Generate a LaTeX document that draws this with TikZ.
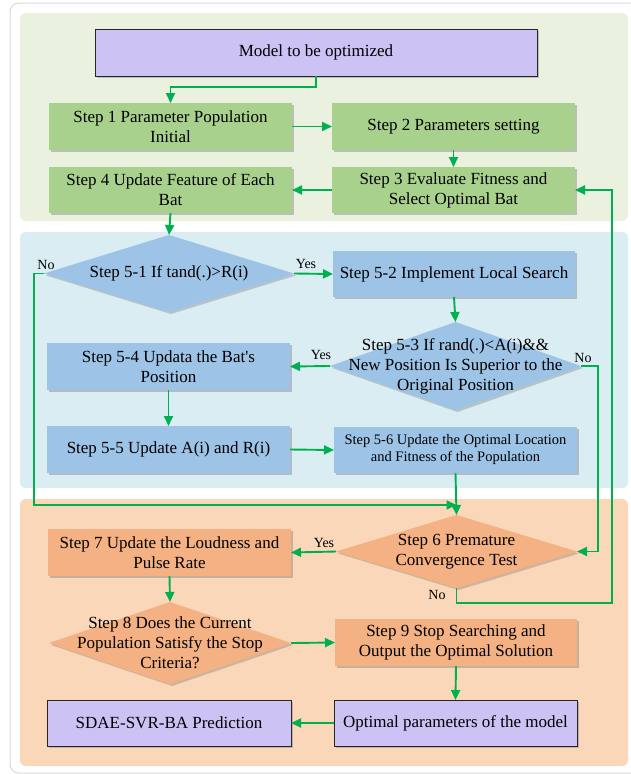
\documentclass[tikz,border=0pt]{standalone}
\usepackage{fontspec}
\setmainfont{Liberation Serif}[Ligatures=TeXOff]
\usetikzlibrary{shapes.geometric,arrows.meta,shadows,calc}
\definecolor{gpanel}{HTML}{EAF1DE}
\definecolor{gbox}{HTML}{A9D18E}
\definecolor{bpanel}{HTML}{DAEDF3}
\definecolor{bbox}{HTML}{9DC3E6}
\definecolor{opanel}{HTML}{FAD7B8}
\definecolor{obox}{HTML}{F4B183}
\definecolor{pbox}{HTML}{CCC2F4}
\definecolor{arrgreen}{HTML}{00B050}
\definecolor{frame}{HTML}{D9D9D9}
\begin{document}
\begin{tikzpicture}[x=1pt,y=-1pt,
  font=\fontsize{17}{20}\selectfont,
  every node/.style={outer sep=0pt},
  box/.style={rectangle, draw=none, align=center, minimum width=243pt, minimum height=47pt, inner sep=2pt,
    drop shadow={shadow xshift=2pt, shadow yshift=-2pt, opacity=0.35, fill=black!60}},
  gstep/.style={box, fill=gbox},
  bstep/.style={box, fill=bbox},
  ostep/.style={box, fill=obox},
  pstep/.style={box, fill=pbox, draw=black!85, line width=1pt},
  dia/.style={diamond, draw=none, inner sep=0pt, minimum width=#1},
  dtext/.style={align=center, inner sep=0pt},
  arr/.style={draw=arrgreen, line width=1.9pt, -{Triangle[length=10pt,width=9pt]}},
  lab/.style={font=\fontsize{14}{16}\selectfont, inner sep=0pt}
]
\useasboundingbox (0,0) rectangle (631,774);
% frame and panels
\draw[frame, line width=1pt, fill=white, rounded corners=9pt] (10,3) rectangle (640,773);
\fill[gpanel, rounded corners=6pt] (20,13) rectangle (628,221);
\fill[bpanel, rounded corners=6pt] (20,232) rectangle (628,488);
\fill[opanel, rounded corners=6pt] (20,499) rectangle (628,766);

% boxes
\node[pstep, minimum width=442pt] (model) at (316,52.5) {Model to be optimized};
\node[gstep] (s1) at (170.5,126.5) {Step 1 Parameter Population\\Initial};
\node[gstep] (s2) at (453.5,126.5) {Step 2 Parameters setting};
\node[gstep, minimum height=46pt] (s3) at (453.5,190) {Step 3 Evaluate Fitness and\\Select Optimal Bat};
\node[gstep, minimum height=46pt] (s4) at (170.5,190) {Step 4 Update Feature of Each\\Bat};

\node[bstep, minimum width=242pt, minimum height=46pt] (s52) at (454,274) {Step 5-2 Implement Local Search};
\node[bstep] (s54) at (168.5,366.5) {Step 5-4 Updata the Bat's\\Position};
\node[bstep] (s55) at (168.5,449.5) {Step 5-5 Update A(i) and R(i)};
\node[bstep, minimum height=46pt, font=\fontsize{14.5}{17}\selectfont] (s56) at (455.5,450) {Step 5-6 Update the Optimal Location\\and Fitness of the Population};

\node[ostep] (s7) at (169.5,552.5) {Step 7 Update the Loudness and\\Pulse Rate};
\node[ostep, minimum width=242pt] (s9) at (456,642.5) {Step 9 Stop Searching and\\Output the Optimal Solution};
\node[pstep, minimum height=46pt] (opt) at (455.5,723) {Optimal parameters of the model};
\node[pstep, minimum width=244pt, minimum height=46pt] (sdae) at (169,723) {SDAE-SVR-BA Prediction};

% diamonds
\node[dia=250pt, minimum height=77pt, fill=bbox, drop shadow={shadow xshift=2pt, shadow yshift=-2pt, opacity=0.3, fill=black!60}] (d51) at (169,273.5) {};
\node[dtext] at (d51.center) {Step 5-1 If tand(.)>R(i)};
\node[dia=251pt, minimum height=88pt, fill=bbox, drop shadow={shadow xshift=2pt, shadow yshift=-2pt, opacity=0.3, fill=black!60}] (d53) at (455.5,366) {};
\node[dtext] at (d53.center) {Step 5-3 If rand(.)<A(i)\&\&\\New Position Is Superior to the\\Original Position};
\node[dia=241pt, minimum height=73pt, fill=obox, drop shadow={shadow xshift=2pt, shadow yshift=-2pt, opacity=0.3, fill=black!60}] (d6) at (456.5,551.5) {};
\node[dtext] at (d6.center) {Step 6 Premature\\Convergence Test};
\node[dia=242pt, minimum height=82pt, fill=obox, drop shadow={shadow xshift=2pt, shadow yshift=-2pt, opacity=0.3, fill=black!60}] (d8) at (170,643) {};
\node[dtext] at (d8.center) {Step 8 Does the Current\\Population Satisfy the Stop\\Criteria?};

\coordinate (j) at (456.5,505);

% connectors
\draw[arr] (model.south) -- ++(0,11) -| (s1.north);
\draw[arr] (s1.east) -- (s2.west);
\draw[arr] (s2.south) -- (s3.north);
\draw[arr] (s3.west) -- (s4.east);
\draw[arr] (s4.south) -- (d51.north);
\draw[arr] (d51.east) -- (s52.west);
\draw[arr] (d51.west) -- ++(-10,0) |- (j);
\draw[arr] (s52.south) -- (d53.north);
\draw[arr] (d53.west) -- (s54.east);
\draw[arr] (d53.east) -- ++(17,0) |- (d6.east);
\draw[arr] (s54.south) -- (s55.north);
\draw[arr] (s55.east) -- (s56.west);
\draw[arr] (s56.south) -- (d6.north);
\draw[arr] (d6.west) -- (s7.east);
\draw[arr] (d6.south) -- ++(0,15) -| ($(s3.east)+(37,0)$) -- (s3.east);
\draw[arr] (s7.south) -- (d8.north);
\draw[arr] (d8.east) -- (s9.west);
\draw[arr] (s9.south) -- (opt.north);
\draw[arr] (opt.west) -- (sdae.east);

% labels
\node[lab] (l1) at (306,264) {Yes};
\node[lab] (l2) at (46,265) {No};
\node[lab] (l3) at (321,355) {Yes};
\node[lab] (l4) at (583,358) {No};
\node[lab] (l5) at (324,543) {Yes};
\node[lab] (l6) at (437,595) {No};
\end{tikzpicture}
\end{document}
